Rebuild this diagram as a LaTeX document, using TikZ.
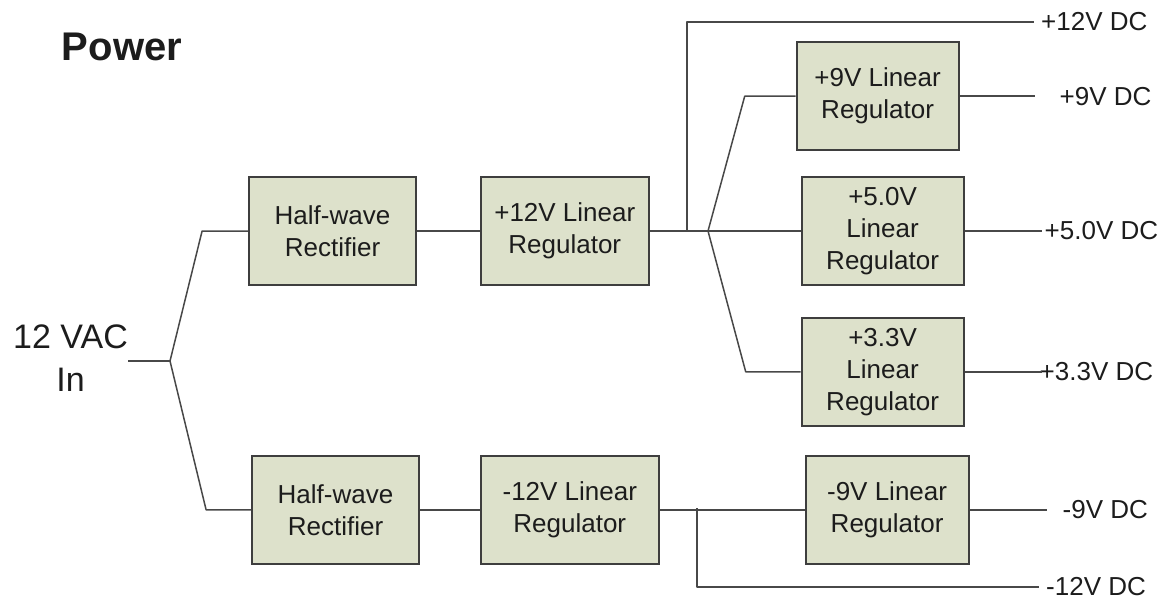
\documentclass[tikz,border=0pt]{standalone}
\usepackage{fontspec}
\setmainfont{Liberation Sans}
\usetikzlibrary{positioning}
\definecolor{boxfill}{RGB}{221,225,203}
\definecolor{wirecol}{RGB}{72,72,72}
\definecolor{ink}{RGB}{28,28,28}

\begin{document}
\begin{tikzpicture}[
    x=1pt, y=-1pt,
    blk/.style={draw=ink!85, line width=1.8pt, fill=boxfill, align=center, inner sep=2pt, text=ink, font=\fontsize{26}{32}\selectfont, minimum width=167pt, minimum height=108pt},
    nblk/.style={blk, minimum width=162pt},
    lbl/.style={inner sep=0pt, text=ink, font=\fontsize{26}{32}\selectfont},
    wire/.style={line width=1.5pt, draw=wirecol, line join=round},
  ]
  \useasboundingbox (0,0) rectangle (1166,602);

  \node[lbl, font=\fontsize{40}{48}\selectfont\bfseries] (title) at (122,47) {Power};
  \node[lbl, font=\fontsize{34}{43}\selectfont, align=center] (vac) at (70.5,358.5) {12 VAC\\In};

  \node[blk] (hwA) at (332.5,231) {Half-wave\\Rectifier};
  \node[blk, minimum width=168pt, right=63pt of hwA] (regA) {+12V Linear\\Regulator};
  \node[nblk, right=151pt of regA] (reg5) {+5.0V\\Linear\\Regulator};
  \node[nblk, above=25pt of reg5, xshift=-5pt] (reg9) {+9V Linear\\Regulator};
  \node[nblk, below=31pt of reg5] (reg33) {+3.3V\\Linear\\Regulator};

  \node[blk, below=169pt of hwA, xshift=3pt] (hwB) {Half-wave\\Rectifier};
  \node[blk, minimum width=178pt, right=60pt of hwB] (regB) {-12V Linear\\Regulator};
  \node[blk, minimum width=163pt, right=145pt of regB] (regm9) {-9V Linear\\Regulator};

  \coordinate (fin) at (170,361);
  \coordinate (jA) at (687,231);
  \coordinate (fA) at (708,231);
  \coordinate (jB) at (697,508);
  \coordinate (o12) at (1034,22);
  \coordinate (o9) at ([xshift=75pt]reg9.east);
  \coordinate (o5) at ([xshift=77pt]reg5.east);
  \coordinate (o33) at ([xshift=77pt]reg33.east);
  \coordinate (om9) at ([xshift=77pt]regm9.east);
  \coordinate (om12) at (1039,587);

  \node[lbl, right=7pt of o12] (l12) {+12V DC};
  \node[lbl, right=25pt of o9] (l9) {+9V DC};
  \node[lbl, right=3pt of o5] (l5) {+5.0V DC};
  \node[lbl, right=-2pt of o33] (l33) {+3.3V DC};
  \node[lbl, right=16pt of om9] (lm9) {-9V DC};
  \node[lbl, right=7pt of om12] (lm12) {-12V DC};

  \draw[wire] (vac.east |- fin) -- (fin);
  \draw[wire] (fin) -- ([xshift=-46pt]hwA.west) -- (hwA.west);
  \draw[wire] (fin) -- ([xshift=-45pt]hwB.west) -- (hwB.west);
  \draw[wire] (hwA) -- (regA);
  \draw[wire] (hwB) -- (regB);

  \draw[wire] (regA.east) -- (fA) -- (reg5.west);
  \draw[wire] (jA) |- (o12);
  \draw[wire] (fA) -- ([xshift=-51pt]reg9.west) -- (reg9.west);
  \draw[wire] (fA) -- ([xshift=-55pt]reg33.west) -- (reg33.west);
  \draw[wire] (reg9.east) -- (o9);
  \draw[wire] (reg5.east) -- (o5);
  \draw[wire] (reg33.east) -- (o33);

  \draw[wire] (regB.east) -- (regm9.west);
  \draw[wire] (jB) |- (om12);
  \draw[wire] (regm9.east) -- (om9);

\end{tikzpicture}
\end{document}
